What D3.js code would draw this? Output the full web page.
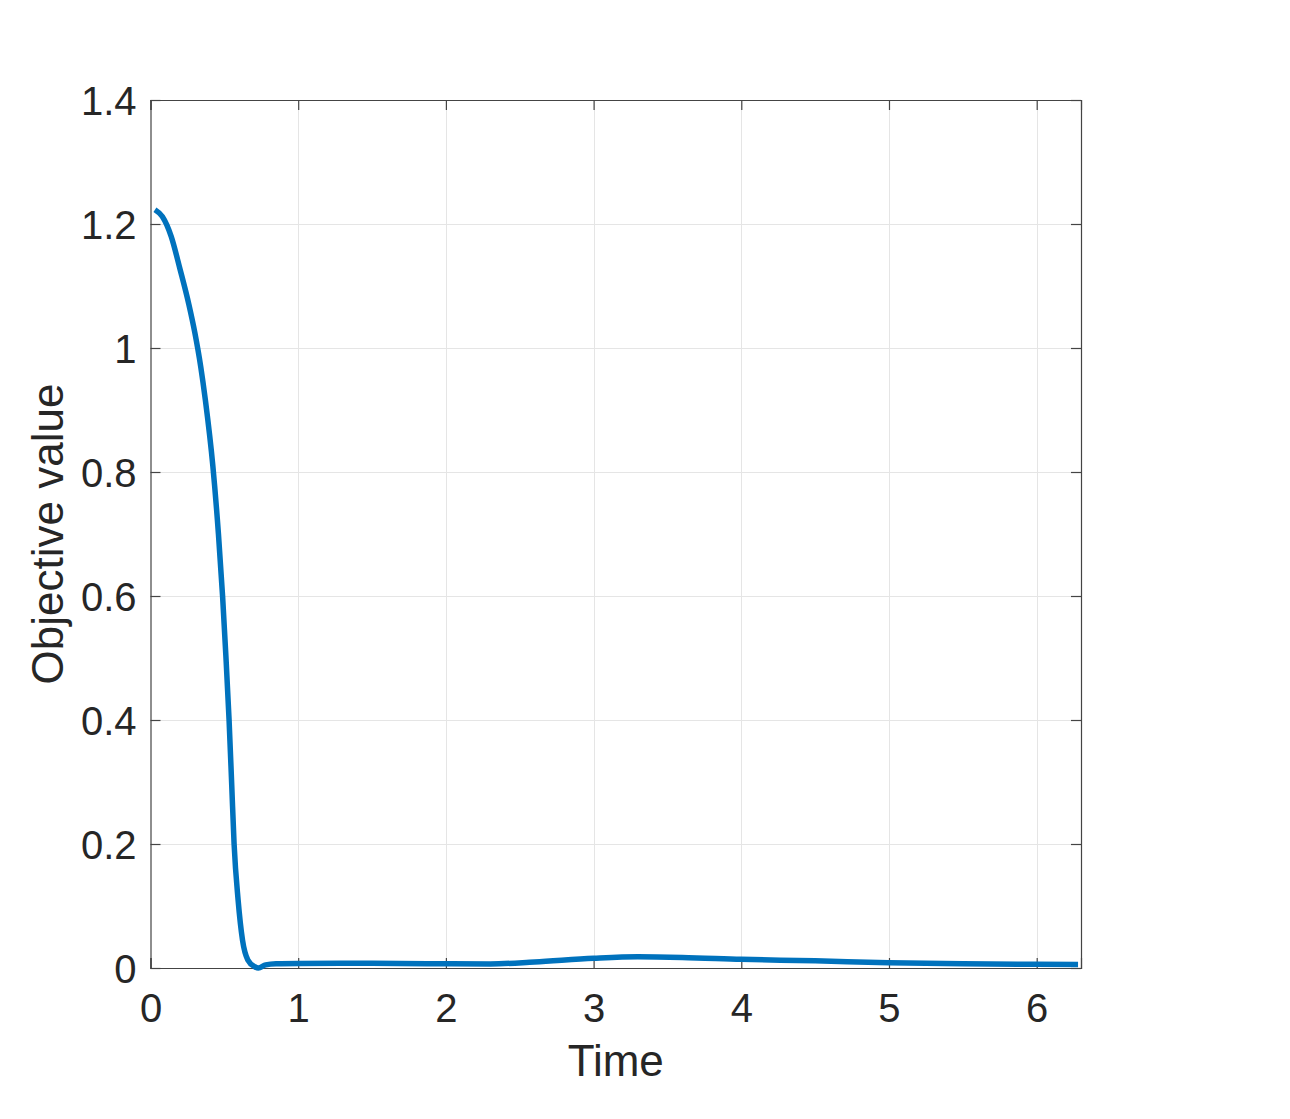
<!DOCTYPE html>
<html>
<head>
<meta charset="utf-8">
<script src="https://cdn.jsdelivr.net/npm/d3@7"></script>
<style>
  body { margin: 0; background: #fff; }
</style>
</head>
<body>
<div id="chart"></div>
<script>
// values
const time = [0.03, 0.08, 0.14, 0.2, 0.26, 0.3, 0.34, 0.372, 0.422, 0.46, 0.488, 0.51, 0.532, 0.55, 0.566, 0.593, 0.623, 0.659, 0.706, 0.73, 0.78, 0.85, 1.0, 1.5, 2.0, 2.3, 2.6, 3.0, 3.3, 3.6, 4.0, 4.5, 5.0, 5.5, 6.0, 6.28];
const objective = [1.223, 1.212, 1.18, 1.127, 1.07, 1.025, 0.97, 0.915, 0.81, 0.7, 0.6, 0.505, 0.4, 0.295, 0.2, 0.11, 0.045, 0.013, 0.002, 0.0, 0.005, 0.0068, 0.0073, 0.0076, 0.0068, 0.0065, 0.0097, 0.0156, 0.018, 0.017, 0.014, 0.0115, 0.0085, 0.0068, 0.006, 0.0058];
const xTicks = [0, 1, 2, 3, 4, 5, 6];
const yTicks = [0, 0.2, 0.4, 0.6, 0.8, 1, 1.2, 1.4];

const width = 1290, height = 1119;
const margin = {left: 150.5, right: 1081, top: 100, bottom: 968};

const svg = d3.select("#chart")
    .append("svg")
    .attr("width", width)
    .attr("height", height)
    .attr("font-family", "'Liberation Sans', Arial, sans-serif");

svg.append("rect").attr("width", width).attr("height", height).attr("fill", "#fff");

const x = d3.scaleLinear().domain([0, 6.3]).range([margin.left, margin.right]);
const y = d3.scaleLinear().domain([0, 1.4]).range([margin.bottom, margin.top]);

// grid
const grid = svg.append("g").attr("stroke", "#e5e5e5").attr("stroke-width", 1);
grid.selectAll(".gx")
    .data(xTicks.filter(d => d > 0))
    .enter().append("line")
    .attr("x1", d => Math.round(x(d)) + 0.5).attr("x2", d => Math.round(x(d)) + 0.5)
    .attr("y1", margin.top).attr("y2", margin.bottom);
grid.selectAll(".gy")
    .data(yTicks.filter(d => d > 0 && d < 1.4))
    .enter().append("line")
    .attr("y1", d => Math.round(y(d)) + 0.5).attr("y2", d => Math.round(y(d)) + 0.5)
    .attr("x1", margin.left).attr("x2", margin.right);

// axes with inward ticks, box on
const tickLen = 10;
const fmt = d => d3.format("")(+d.toFixed(1));

const xAxis = svg.append("g")
    .attr("transform", `translate(0,${margin.bottom})`)
    .call(d3.axisBottom(x).tickValues(xTicks).tickSize(-tickLen).tickPadding(28).tickFormat(fmt));
const xTop = svg.append("g")
    .attr("transform", `translate(0,${margin.top})`)
    .call(d3.axisTop(x).tickValues(xTicks).tickSize(-tickLen).tickFormat(""));
const yAxis = svg.append("g")
    .attr("transform", `translate(${margin.left},0)`)
    .call(d3.axisLeft(y).tickValues(yTicks).tickSize(-tickLen).tickPadding(14).tickFormat(fmt));
const yRight = svg.append("g")
    .attr("transform", `translate(${margin.right},0)`)
    .call(d3.axisRight(y).tickValues(yTicks).tickSize(-tickLen).tickFormat(""));

[xAxis, xTop, yAxis, yRight].forEach(a => {
    a.select(".domain").attr("stroke", "#444").attr("stroke-width", 1.2);
    a.selectAll(".tick line").attr("stroke", "#444").attr("stroke-width", 1.2);
    a.selectAll(".tick text")
        .attr("fill", "#262626")
        .attr("font-size", 40)
        .attr("font-family", "'Liberation Sans', Arial, sans-serif");
});
xAxis.selectAll(".tick text").attr("dy", "0.71em").attr("y", 26);
yAxis.selectAll(".tick text").attr("dy", "0.36em");

// the line
svg.append("path")
    .datum(time.map((t, i) => [t, objective[i]]))
    .attr("fill", "none")
    .attr("stroke", "#0072BD")
    .attr("stroke-width", 5.5)
    .attr("stroke-linejoin", "round")
    .attr("d", d3.line()
        .x(d => x(d[0]))
        .y(d => y(d[1]))
        .curve(d3.curveMonotoneX));

// labels
svg.append("text")
    .attr("x", (margin.left + margin.right) / 2)
    .attr("y", 1076)
    .attr("text-anchor", "middle")
    .attr("font-size", 44)
    .attr("fill", "#262626")
    .text("Time");

svg.append("text")
    .attr("transform", `translate(63,${(margin.top + margin.bottom) / 2})rotate(-90)`)
    .attr("text-anchor", "middle")
    .attr("font-size", 44)
    .attr("fill", "#262626")
    .text("Objective value");
</script>
</body>
</html>
